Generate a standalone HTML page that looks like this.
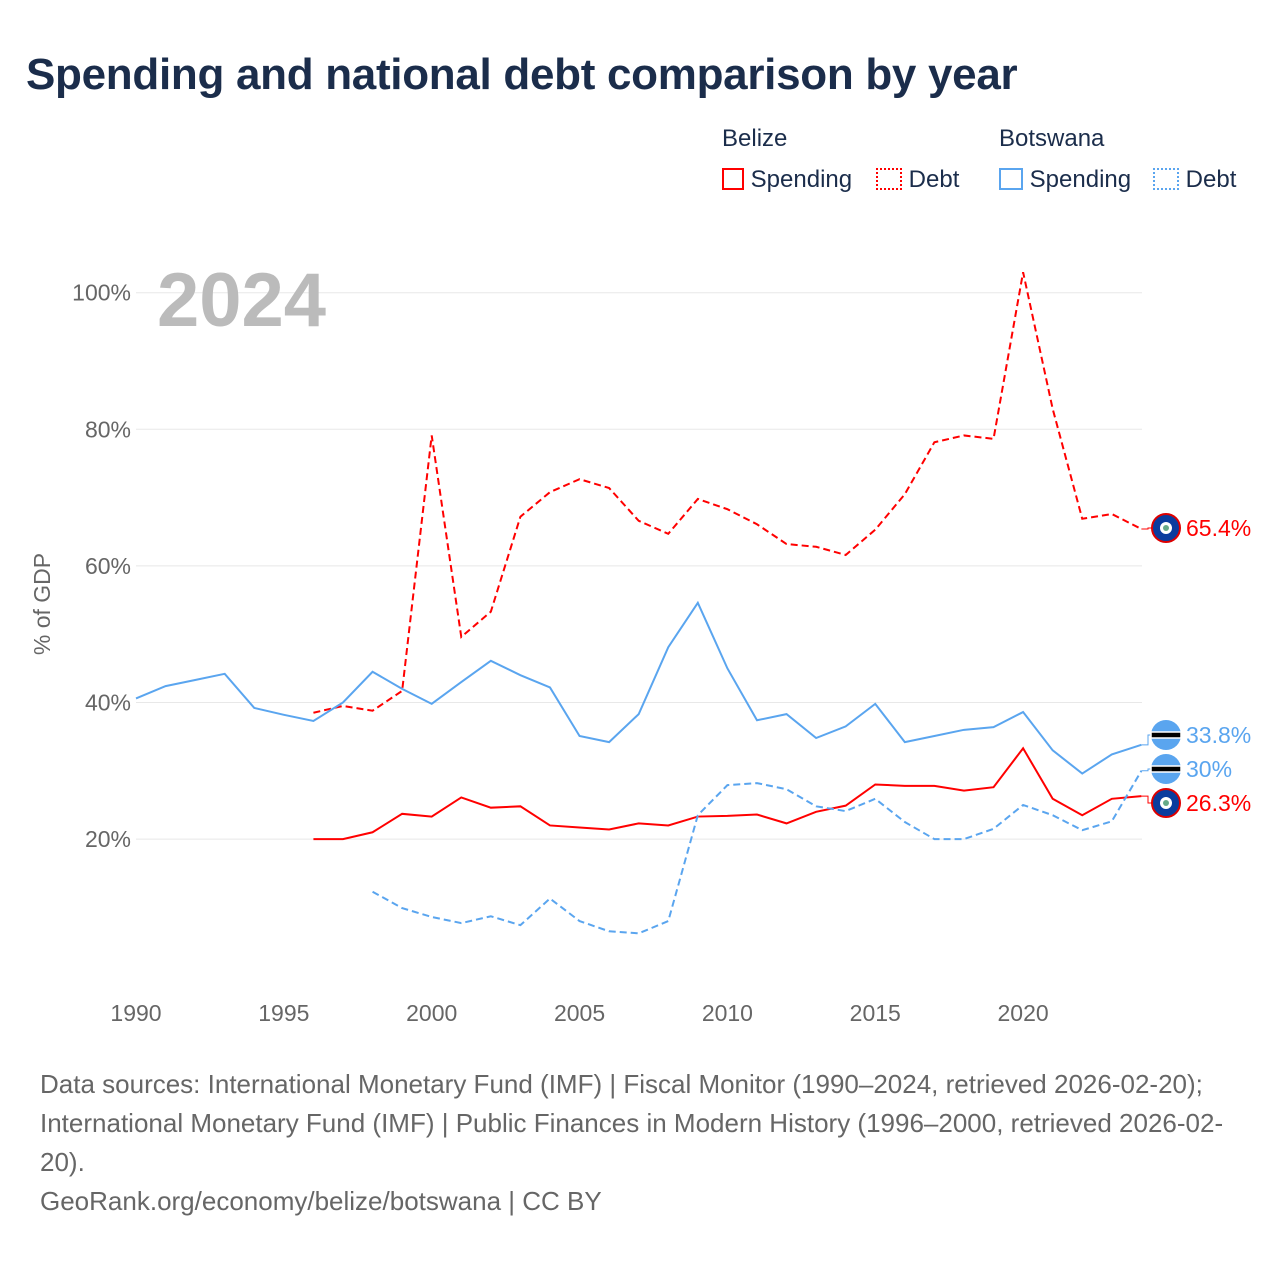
<!DOCTYPE html>
<html><head><meta charset="utf-8"><style>
body{margin:0;background:#fff;font-family:"Liberation Sans",sans-serif;}
#wrap{position:relative;width:1280px;height:1280px;}
h1{position:absolute;left:26px;top:50px;margin:0;font-size:44px;color:#1b2d4b;font-weight:bold;letter-spacing:-0.3px}
.lg{position:absolute;font-size:24px;color:#1b2d4b}
.foot{position:absolute;left:40px;top:1065px;font-size:26px;line-height:39px;color:#666;width:1190px}
</style></head><body>
<div id="wrap">
<h1>Spending and national debt comparison by year</h1>
<div class="lg" style="left:722px;top:125px">Belize</div>
<div class="lg" style="left:999px;top:125px">Botswana</div>
<div class="lg" style="left:722px;top:166px"><span style="display:inline-block;width:22px;height:22px;border:2px solid #f00;box-sizing:border-box;vertical-align:-3px"></span> Spending</div>
<div class="lg" style="left:876px;top:166px"><span style="display:inline-block;width:26px;height:22px;border:2px dotted #f00;box-sizing:border-box;vertical-align:-3px"></span> Debt</div>
<div class="lg" style="left:999px;top:166px"><span style="display:inline-block;width:24px;height:22px;border:2px solid #5aa5ef;box-sizing:border-box;vertical-align:-3px"></span> Spending</div>
<div class="lg" style="left:1153px;top:166px"><span style="display:inline-block;width:26px;height:22px;border:2px dotted #5aa5ef;box-sizing:border-box;vertical-align:-3px"></span> Debt</div>
<svg id="svg" width="1280" height="1280" style="position:absolute;left:0;top:0"></svg>
<div class="foot">Data sources: International Monetary Fund (IMF) | Fiscal Monitor (1990–2024, retrieved 2026-02-20); International Monetary Fund (IMF) | Public Finances in Modern History (1996–2000, retrieved 2026-02-20).<br>GeoRank.org/economy/belize/botswana | CC BY</div>
</div>
<script>
const bwSpendYears=[1990,1991,1992,1993,1994,1995,1996,1997,1998,1999,2000,2001,2002,2003,2004,2005,2006,2007,2008,2009,2010,2011,2012,2013,2014,2015,2016,2017,2018,2019,2020,2021,2022,2023,2024];
const bwSpend=[40.6,42.4,43.3,44.2,39.2,38.2,37.3,40,44.5,42,39.8,43,46.1,44,42.2,35.1,34.2,38.3,48.1,54.6,45,37.4,38.3,34.8,36.5,39.8,34.2,35.1,36,36.4,38.6,33,29.6,32.4,33.8];
const bwDebtYears=[1998,1999,2000,2001,2002,2003,2004,2005,2006,2007,2008,2009,2010,2011,2012,2013,2014,2015,2016,2017,2018,2019,2020,2021,2022,2023,2024];
const bwDebt=[12.3,9.9,8.6,7.7,8.7,7.4,11.3,8,6.5,6.2,8,23.5,27.9,28.2,27.3,24.8,24.1,25.9,22.5,20,20,21.5,25,23.5,21.3,22.6,30];
const bzYears=[1996,1997,1998,1999,2000,2001,2002,2003,2004,2005,2006,2007,2008,2009,2010,2011,2012,2013,2014,2015,2016,2017,2018,2019,2020,2021,2022,2023,2024];
const bzSpend=[20,20,21,23.7,23.3,26.1,24.6,24.8,22,21.7,21.4,22.3,22,23.3,23.4,23.6,22.3,24,24.9,28,27.8,27.8,27.1,27.6,33.3,25.9,23.5,25.9,26.3];
const bzDebt=[38.5,39.5,38.8,41.7,79.1,49.6,53.3,67.2,70.8,72.7,71.4,66.6,64.7,69.8,68.3,66.1,63.2,62.8,61.6,65.3,70.5,78.1,79.1,78.6,103,83,66.9,67.6,65.4];
const yTicks=[20,40,60,80,100];
const xTicks=[1990,1995,2000,2005,2010,2015,2020];
const X=y=>136+(y-1990)*29.57, Y=v=>975.7-v*6.83;
const s=document.getElementById('svg'),NS='http://www.w3.org/2000/svg';
function el(t,a,p){const e=document.createElementNS(NS,t);for(const k in a)e.setAttribute(k,a[k]);(p||s).appendChild(e);return e;}
yTicks.forEach(v=>{
 const g=el('line',{x1:136,x2:1142,y1:Y(v),y2:Y(v),stroke:'#e8e8e8','stroke-width':1});
 
 
 const t=el('text',{x:131,y:Y(v)+8,'text-anchor':'end','font-size':23,fill:'#666'});t.textContent=v+'%';
 
 
});
xTicks.forEach(v=>{const t=el('text',{x:X(v),y:1021,'text-anchor':'middle','font-size':23,fill:'#666'});t.textContent=v;
 
 });
const yt=el('text',{x:50,y:604,'text-anchor':'middle','font-size':23,fill:'#666',transform:'rotate(-90 50 604)'});yt.textContent='% of GDP';


const yr=el('text',{x:157,y:326,'font-size':76,'font-weight':'bold',fill:'#bbb'});yr.textContent='2024';


function line(xs,vs,col,dash,name){const p=el('polyline',{points:xs.map((x,i)=>X(x)+','+Y(vs[i])).join(' '),fill:'none',stroke:col,'stroke-width':2,'stroke-dasharray':dash||'none'});
 
 }
line(bzYears,bzDebt,'#f00','7 4','line-belize-debt');
line(bzYears,bzSpend,'#f00','','line-belize-spending');
line(bwSpendYears,bwSpend,'#5aa5ef','','line-botswana-spending');
line(bwDebtYears,bwDebt,'#5aa5ef','7 4','line-botswana-debt');
function endLabel(v,ly,col,flag,name){
 const y=Y(v);
 el('polyline',{points:`${X(2024)},${y} 1148,${y} 1148,${ly} 1152,${ly}`,fill:'none',stroke:col,'stroke-width':1});
 const g=el('g',{});
 
 
 if(flag==='bz'){el('circle',{cx:1166,cy:ly,r:14,fill:'#0a3c9e',stroke:'#d00','stroke-width':2},g);el('circle',{cx:1166,cy:ly,r:6,fill:'#fff'},g);el('circle',{cx:1166,cy:ly,r:3,fill:'#6a8'},g);}
 else{el('circle',{cx:1166,cy:ly,r:15,fill:'#5aa5ef'},g);el('rect',{x:1151,y:ly-3,width:30,height:6,fill:'#000',stroke:'#fff','stroke-width':1.5},g);}
 const t=el('text',{x:1186,y:ly+8,'font-size':23,fill:col},g);t.textContent=(+v.toFixed(1))+'%';
}
endLabel(bzDebt[bzDebt.length-1],528,'#f00','bz','end-label-belize-debt');
endLabel(bwSpend[bwSpend.length-1],735,'#5aa5ef','bw','end-label-botswana-spending');
endLabel(bwDebt[bwDebt.length-1],769,'#5aa5ef','bw','end-label-botswana-debt');
endLabel(bzSpend[bzSpend.length-1],803,'#f00','bz','end-label-belize-spending');
</script>
</body></html>
